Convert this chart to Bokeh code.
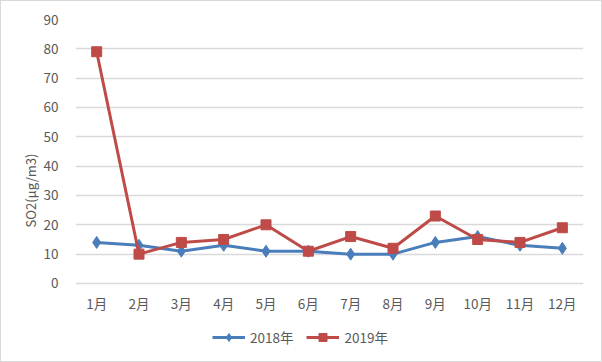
from bokeh.plotting import figure
from bokeh.models import FactorRange, Range1d, Legend, LegendItem, FixedTicker
from bokeh.embed import file_html
from bokeh.resources import INLINE

months = ["1月", "2月", "3月", "4月", "5月", "6月", "7月", "8月", "9月", "10月", "11月", "12月"]
so2_2018 = [14, 13, 11, 13, 11, 11, 10, 10, 14, 16, 13, 12]
so2_2019 = [79, 10, 14, 15, 20, 11, 16, 12, 23, 15, 14, 19]
y_ticks = [0, 10, 20, 30, 40, 50, 60, 70, 80, 90]

FONT = "Noto Sans CJK SC"
TXT = "#595959"
BLUE = "#4A7EBB"
RED = "#BE4B48"
Y_MIN = -26.6  # room under the 0 line for month labels and legend

p = figure(frame_width=508, frame_height=342,
           x_range=FactorRange(*months, range_padding=0),
           y_range=Range1d(Y_MIN, 90), output_backend="svg", toolbar_location=None,
           min_border_left=74, min_border_right=18, min_border_top=18, min_border_bottom=0)
p.styles = {"border": "1px solid #d9d9d9"}
p.outline_line_color = None
p.background_fill_color = "white"
p.border_fill_color = "white"

l1 = p.line(months, so2_2018, line_color=BLUE, line_width=3)
m1 = p.scatter(months, so2_2018, marker="diamond", size=12, fill_color=BLUE, line_color=BLUE)
l2 = p.line(months, so2_2019, line_color=RED, line_width=3)
m2 = p.scatter(months, so2_2019, marker="square", size=10, fill_color=RED, line_color=RED)

p.yaxis.ticker = FixedTicker(ticks=y_ticks)
p.yaxis.axis_label = "SO2(μg/m3)"
p.yaxis.axis_label_text_font = FONT
p.yaxis.axis_label_text_font_style = "normal"
p.yaxis.axis_label_text_font_size = "13px"
p.yaxis.axis_label_text_color = TXT
p.yaxis.axis_label_standoff = 1
for ax in (p.xaxis, p.yaxis):
    ax.axis_line_color = None
    ax.major_tick_line_color = None
    ax.minor_tick_line_color = None
    ax.major_label_text_font = FONT
    ax.major_label_text_font_size = "13.5px"
    ax.major_label_text_color = TXT
p.yaxis.major_label_standoff = 11
p.xaxis.fixed_location = 0
p.xaxis.major_label_standoff = 4

p.xgrid.grid_line_color = None
p.ygrid.grid_line_color = "#D9D9D9"
p.ygrid.grid_line_width = 1.3

legend = Legend(items=[LegendItem(label="2018年", renderers=[l1, m1]),
                       LegendItem(label="2019年", renderers=[l2, m2])],
                orientation="horizontal", location=(137, 14),
                label_text_font=FONT, label_text_font_size="13.5px", label_text_color=TXT,
                border_line_color=None, background_fill_alpha=0,
                glyph_width=33, label_standoff=5, spacing=13, margin=0, padding=4)
p.add_layout(legend, "center")

open("out.html", "w").write(file_html(p, INLINE))
